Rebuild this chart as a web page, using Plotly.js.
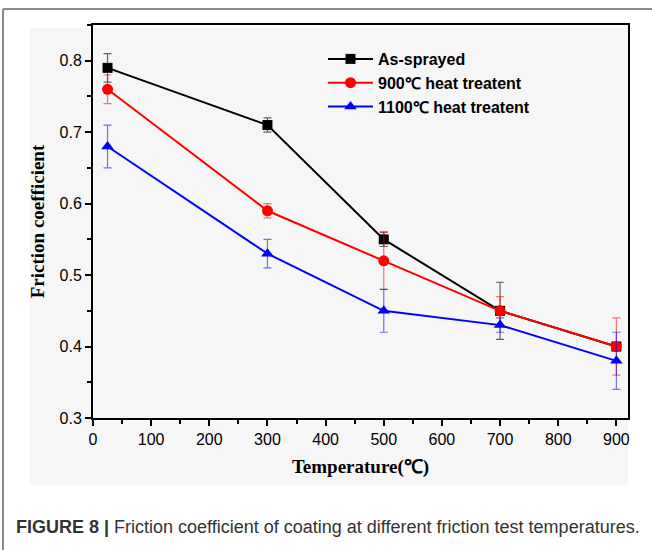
<!DOCTYPE html>
<html>
<head>
<meta charset="utf-8">
<script src="https://cdn.plot.ly/plotly-3.0.1.min.js"></script>
<style>
html,body{margin:0;padding:0;background:#fff;}
#chart{width:652px;height:550px;}
</style>
</head>
<body>
<div id="chart"></div>
<script>
// Data
var temperatures = [25, 300, 500, 700, 900];
var seriesNames = ["As-sprayed", "900℃ heat treatent", "1100℃ heat treatent"];
var asSprayed = [0.79, 0.71, 0.55, 0.45, 0.40];
var asSprayedErr = [0.02, 0.01, 0.01, 0.04, 0.005];
var heat900 = [0.76, 0.59, 0.52, 0.45, 0.40];
var heat900Err = [0.02, 0.01, 0.04, 0.02, 0.04];
var heat1100 = [0.68, 0.53, 0.45, 0.43, 0.38];
var heat1100Err = [0.03, 0.02, 0.03, 0.01, 0.04];
var xTickVals = [0, 100, 200, 300, 400, 500, 600, 700, 800, 900];
var yTickVals = [0.3, 0.4, 0.5, 0.6, 0.7, 0.8];
var xTitle = "Temperature(℃)";
var yTitle = "Friction coefficient";
var caption = "<b>FIGURE 8 |</b> Friction coefficient of coating at different friction test temperatures.";

function mk(name, y, err, color, errColor, symbol, size, group) {
  return {
    x: temperatures, y: y, name: name, type: "scatter", mode: "lines+markers",
    legendgroup: group,
    line: {color: color, width: 2},
    marker: {color: color, symbol: symbol, size: size},
    error_y: {type: "data", array: err, visible: true, color: errColor, thickness: 1.2, width: 4}
  };
}

var traces = [
  mk(seriesNames[0], asSprayed, asSprayedErr, "#000000", "rgba(0,0,0,0.6)", "square", 10, "a"),
  mk(seriesNames[1], heat900, heat900Err, "#ff0000", "rgba(255,0,0,0.55)", "circle", 11, "b"),
  mk(seriesNames[2], heat1100, heat1100Err, "#0000ff", "rgba(0,0,255,0.55)", "triangle-up", 11, "c")
];

var L = 93, R = 24, T = 25, B = 132, W = 652, H = 550;
var pw = W - L - R, ph = H - T - B;
function px(x){ return (x - L) / pw; }
function py(y){ return (H - B - y) / ph; }

var layout = {
  width: W, height: H,
  margin: {l: L, r: R, t: T, b: B, pad: 0},
  paper_bgcolor: "#ffffff",
  plot_bgcolor: "rgba(0,0,0,0)",
  showlegend: true,
  legend: {
    x: px(323), y: py(42), xanchor: "left", yanchor: "top",
    bgcolor: "rgba(0,0,0,0)", borderwidth: 0,
    font: {family: "Liberation Sans, Arial, sans-serif", size: 16, color: "#000", weight: "bold"},
    traceorder: "grouped", tracegroupgap: 0, itemwidth: 45
  },
  xaxis: {
    range: [0, 920], tickvals: xTickVals, ticktext: xTickVals.map(String),
    showline: true, linecolor: "#000", linewidth: 2, mirror: true,
    ticks: "outside", ticklen: 6, tickwidth: 2, tickcolor: "#000",
    minor: {dtick: 50, tick0: 0, ticks: "outside", ticklen: 4, tickwidth: 2, tickcolor: "#000", showgrid: false},
    showgrid: false, zeroline: false,
    tickfont: {family: "Liberation Sans, Arial, sans-serif", size: 16, color: "#000"},
    title: {text: xTitle, font: {family: "Liberation Serif, Times New Roman, serif", size: 19, color: "#000", weight: "bold"}, standoff: 12}
  },
  yaxis: {
    range: [0.3, 0.85], tickvals: yTickVals, ticktext: yTickVals.map(function(v){return v.toFixed(1);}),
    showline: true, linecolor: "#000", linewidth: 2, mirror: true,
    ticks: "outside", ticklen: 6, tickwidth: 2, tickcolor: "#000",
    minor: {dtick: 0.05, tick0: 0.3, ticks: "outside", ticklen: 4, tickwidth: 2, tickcolor: "#000", showgrid: false},
    showgrid: false, zeroline: false,
    tickfont: {family: "Liberation Sans, Arial, sans-serif", size: 16, color: "#000"},
    title: {text: yTitle, font: {family: "Liberation Serif, Times New Roman, serif", size: 19, color: "#000", weight: "bold"}, standoff: 10}
  },
  shapes: [
    {type: "rect", xref: "paper", yref: "paper", layer: "below",
     x0: px(30), x1: px(628), y0: py(485), y1: py(28),
     fillcolor: "#f6f6f6", line: {width: 0}},
    {type: "line", xref: "paper", yref: "paper", x0: px(3), x1: px(3), y0: py(550), y1: py(9),
     line: {color: "#8a8a8a", width: 2}},
    {type: "line", xref: "paper", yref: "paper", x0: px(3), x1: px(652), y0: py(9), y1: py(9),
     line: {color: "#8a8a8a", width: 2}}
  ],
  annotations: [
    {text: caption, xref: "paper", yref: "paper", x: px(14), y: py(527),
     xanchor: "left", yanchor: "middle", showarrow: false,
     font: {family: "Liberation Sans, Arial, sans-serif", size: 18, color: "#333"}}
  ]
};

Plotly.newPlot("chart", traces, layout, {displayModeBar: false, staticPlot: true});
</script>
</body>
</html>
